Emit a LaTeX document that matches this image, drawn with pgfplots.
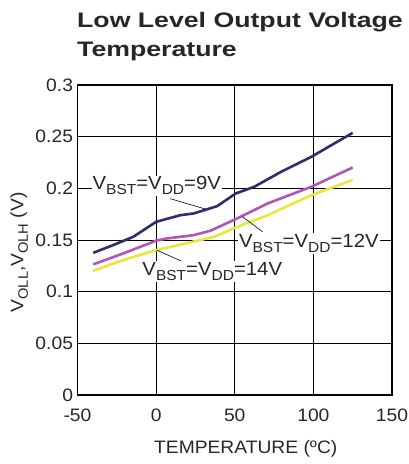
\documentclass[border=0pt]{standalone}
\usepackage{pgfplots}
\pgfplotsset{compat=1.18}
\usepackage{fontspec}
\setmainfont{Liberation Sans}
\newfontfamily\titlefont{Liberation Sans}[FakeStretch=1.27]
\newfontfamily\lblfont{Liberation Sans}[FakeStretch=1.07]
\newfontfamily\curvefont{Liberation Sans}[FakeStretch=1.07]

% lowered subscript at a fixed size
\newcommand\sub[3]{\raisebox{-#2}{\fontsize{#1}{#1}\selectfont #3}}

\definecolor{vnine}{RGB}{44,46,110}
\definecolor{vtwelve}{RGB}{176,86,180}
\definecolor{vfourteen}{RGB}{232,232,60}

\begin{document}
\begin{tikzpicture}[x=1pt,y=1pt]
\begin{axis}[
  at={(77.5pt,69pt)}, anchor=south west,
  scale only axis, width=314.5pt, height=310pt,
  xmin=-50, xmax=150, ymin=0, ymax=0.3,
  xtick={-50,0,50,100,150},
  ytick={0,0.05,0.1,0.15,0.2,0.25,0.3},
  yticklabels={0,0.05,0.1,0.15,0.2,0.25,0.3},
  xticklabels={-50,0,50,100,150},
  major tick length=0pt,
  grid=major,
  major grid style={black, line width=0.9pt},
  axis line style={black, line width=1.6pt},
  tick label style={font=\lblfont\fontsize{18}{21}\selectfont, color=black!85},
  xticklabel style={yshift=-10pt},
  yticklabel style={xshift=-1pt},
  xlabel={TEMPERATURE (ºC)},
  ylabel={V\sub{13.7}{4.5pt}{OLL},V\sub{13.7}{4.5pt}{OLH} (V)},
  label style={font=\lblfont\fontsize{18}{21}\selectfont, color=black!85},
  xlabel style={at={(axis description cs:0.535,0)}, anchor=base, yshift=-59pt},
  ylabel style={at={(axis description cs:0,0.46)}, anchor=south, yshift=46pt},
  clip=false,
]
% 9 V supply
\addplot[vnine, line width=2.6pt] coordinates {
  (-40,0.1376) (-27.4,0.1450) (-14.5,0.1531) (0,0.1676) (15.4,0.1740)
  (23.9,0.1757) (38.9,0.1828) (50.6,0.1950) (62.4,0.2015) (79.5,0.2160)
  (98.7,0.2305) (111.5,0.2418) (125,0.2537)};
% 12 V supply
\addplot[vtwelve, line width=2.6pt] coordinates {
  (-40,0.1264) (-20.9,0.1370) (0,0.1493) (6.8,0.1515) (23.9,0.1547)
  (34.6,0.1590) (51.7,0.1710) (71,0.1854) (98.7,0.2015) (125,0.2202)};
% 14 V supply
\addplot[vfourteen, line width=2.6pt] coordinates {
  (-40,0.1202) (-20.9,0.1306) (0,0.1402) (21.8,0.1477) (36.8,0.1531)
  (51.7,0.1628) (71,0.1740) (98.7,0.1934) (125,0.2080)};

% curve labels with leader lines
\draw[black, line width=0.6pt] (axis cs:9,0.190) -- (axis cs:31.4,0.1799);
\draw[black, line width=0.6pt] (axis cs:67.7,0.158) -- (axis cs:54.9,0.1725);
\draw[black, line width=0.6pt] (axis cs:21.8,0.1257) -- (axis cs:0.4,0.1402);
\node[fill=white, inner sep=1pt, font=\curvefont\fontsize{19}{22}\selectfont, text=black!85]
  at (axis cs:0.4,0.2025) {V\sub{14.5}{5pt}{BST}=V\sub{14.5}{5pt}{DD}=9V};
\node[fill=white, inner sep=1pt, font=\curvefont\fontsize{19}{22}\selectfont, text=black!85]
  at (axis cs:97.1,0.1465) {V\sub{14.5}{5pt}{BST}=V\sub{14.5}{5pt}{DD}=12V};
\node[fill=white, inner sep=1pt, font=\curvefont\fontsize{19}{22}\selectfont, text=black!85]
  at (axis cs:35.7,0.1195) {V\sub{14.5}{5pt}{BST}=V\sub{14.5}{5pt}{DD}=14V};
\end{axis}

\node[anchor=base west, font=\titlefont\fontsize{21}{25}\bfseries\selectfont, text=black!85, inner sep=0pt]
  at (77pt,436pt) {Low Level Output Voltage vs};
\node[anchor=base west, font=\titlefont\fontsize{21}{25}\bfseries\selectfont, text=black!85, inner sep=0pt]
  at (77pt,407pt) {Temperature};

\pgfresetboundingbox
\path (0,0) rectangle (409pt,464pt);
\end{tikzpicture}
\end{document}
